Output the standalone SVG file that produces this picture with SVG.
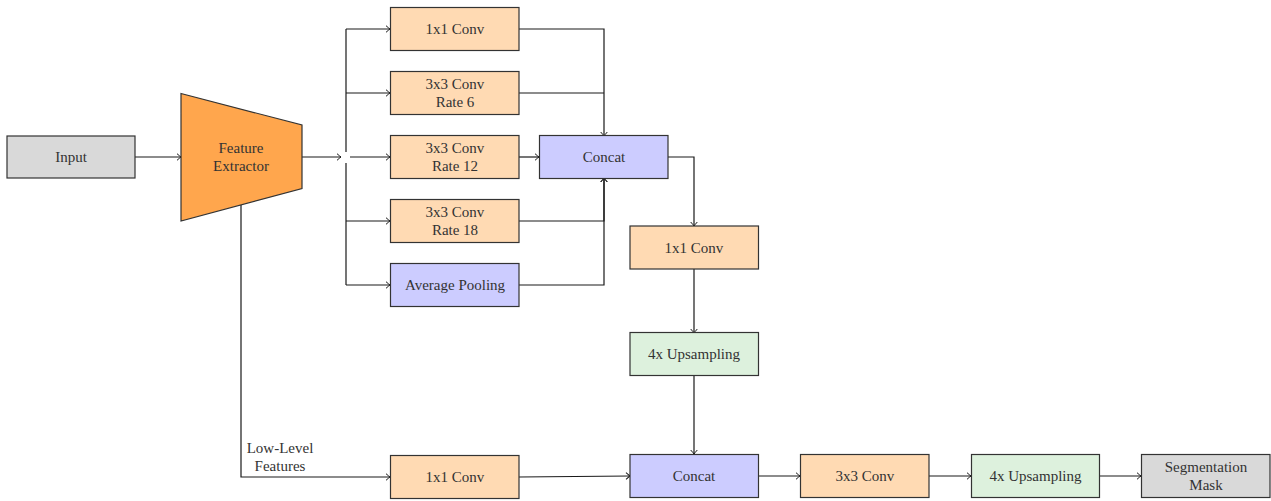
<svg xmlns="http://www.w3.org/2000/svg" width="1271" height="501" viewBox="0 0 1271 501">
<style>
.box{stroke:#333;stroke-width:1.2}
.orange{fill:#FFDAB3}
.blue{fill:#CCCCFF}
.green{fill:#DDF1DD}
.gray{fill:#D9D9D9}
.fe{fill:#FFA64D}
text{font-family:"Liberation Serif","Times New Roman",serif;font-size:15px;fill:#333;text-anchor:middle}
.c{fill:none;stroke:#1a1a1a;stroke-width:1.2}
.a{marker-end:url(#arr)}
</style>
<defs>
<marker id="arr" markerUnits="userSpaceOnUse" markerWidth="10" markerHeight="10" viewBox="-6 -5 8 10" refX="0" refY="0" orient="auto" overflow="visible">
<path d="M-4,-3.3 Q-1.2,-0.8 0,0 Q-1.2,0.8 -4,3.3" fill="none" stroke="#1a1a1a" stroke-width="1"/>
</marker>
</defs>
<g id="connectors">
<path class="c a" d="M135,157 L181,157"/>
<path class="c a" d="M302,157 L341,157"/>
<path class="c" d="M346,29 L346,152"/>
<path class="c" d="M346,163 L346,285"/>
<path class="c a" d="M346,29 L390,29"/>
<path class="c a" d="M346,93 L390,93"/>
<path class="c a" d="M350,157 L390,157"/>
<path class="c a" d="M346,221 L390,221"/>
<path class="c a" d="M346,285 L390,285"/>
<path class="c a" d="M519,29 H604 V136"/>
<path class="c" d="M519,93 H604"/>
<path class="c a" d="M519,157 L539,157"/>
<path class="c a" d="M519,221 H604 V178"/>
<path class="c a" d="M519,285 H604 V178"/>
<path class="c a" d="M668,157 H694 V226"/>
<path class="c a" d="M694,269 V333"/>
<path class="c a" d="M694,375 V454"/>
<path class="c a" d="M241,205 V477 H390"/>
<path class="c a" d="M519,477 L630,476"/>
<path class="c a" d="M758,476 L800,476"/>
<path class="c a" d="M929,476 L971,476"/>
<path class="c a" d="M1099,476 L1141,476"/>
<text x="280" y="453">Low-Level</text>
<text x="280" y="471">Features</text>
</g>
<g id="input"><rect class="box gray" x="7" y="136" width="128" height="42"/><text x="71" y="162">Input</text></g>
<g id="feature-extractor"><polygon class="box fe" points="181,93.5 302,125 302,188.5 181,221"/><text x="241" y="153">Feature</text><text x="241" y="171">Extractor</text></g>
<g id="conv1x1-a"><rect class="box orange" x="390.5" y="7.5" width="128.5" height="43"/><text x="455" y="34">1x1 Conv</text></g>
<g id="conv-rate6"><rect class="box orange" x="390.5" y="71.5" width="128.5" height="43"/><text x="455" y="89">3x3 Conv</text><text x="455" y="107">Rate 6</text></g>
<g id="conv-rate12"><rect class="box orange" x="390.5" y="135.5" width="128.5" height="43"/><text x="455" y="153">3x3 Conv</text><text x="455" y="171">Rate 12</text></g>
<g id="conv-rate18"><rect class="box orange" x="390.5" y="199.5" width="128.5" height="43"/><text x="455" y="217">3x3 Conv</text><text x="455" y="235">Rate 18</text></g>
<g id="avg-pool"><rect class="box blue" x="390.5" y="263.5" width="128.5" height="43"/><text x="455" y="290">Average Pooling</text></g>
<g id="concat-a"><rect class="box blue" x="539.5" y="135.5" width="128.5" height="43"/><text x="604" y="162">Concat</text></g>
<g id="conv1x1-b"><rect class="box orange" x="630" y="226" width="128.5" height="43"/><text x="694" y="252.5">1x1 Conv</text></g>
<g id="upsample-a"><rect class="box green" x="630" y="332.5" width="128.5" height="43"/><text x="694" y="359">4x Upsampling</text></g>
<g id="conv1x1-c"><rect class="box orange" x="390.5" y="455.5" width="128.5" height="43"/><text x="455" y="482">1x1 Conv</text></g>
<g id="concat-b"><rect class="box blue" x="630" y="454.5" width="128.5" height="43"/><text x="694" y="481">Concat</text></g>
<g id="conv3x3"><rect class="box orange" x="800.5" y="454.5" width="128.5" height="43"/><text x="865" y="481">3x3 Conv</text></g>
<g id="upsample-b"><rect class="box green" x="971.5" y="454.5" width="128" height="43"/><text x="1035.5" y="481">4x Upsampling</text></g>
<g id="seg-mask"><rect class="box gray" x="1141.5" y="454.5" width="128.5" height="43"/><text x="1206" y="472">Segmentation</text><text x="1206" y="490">Mask</text></g>
</svg>
